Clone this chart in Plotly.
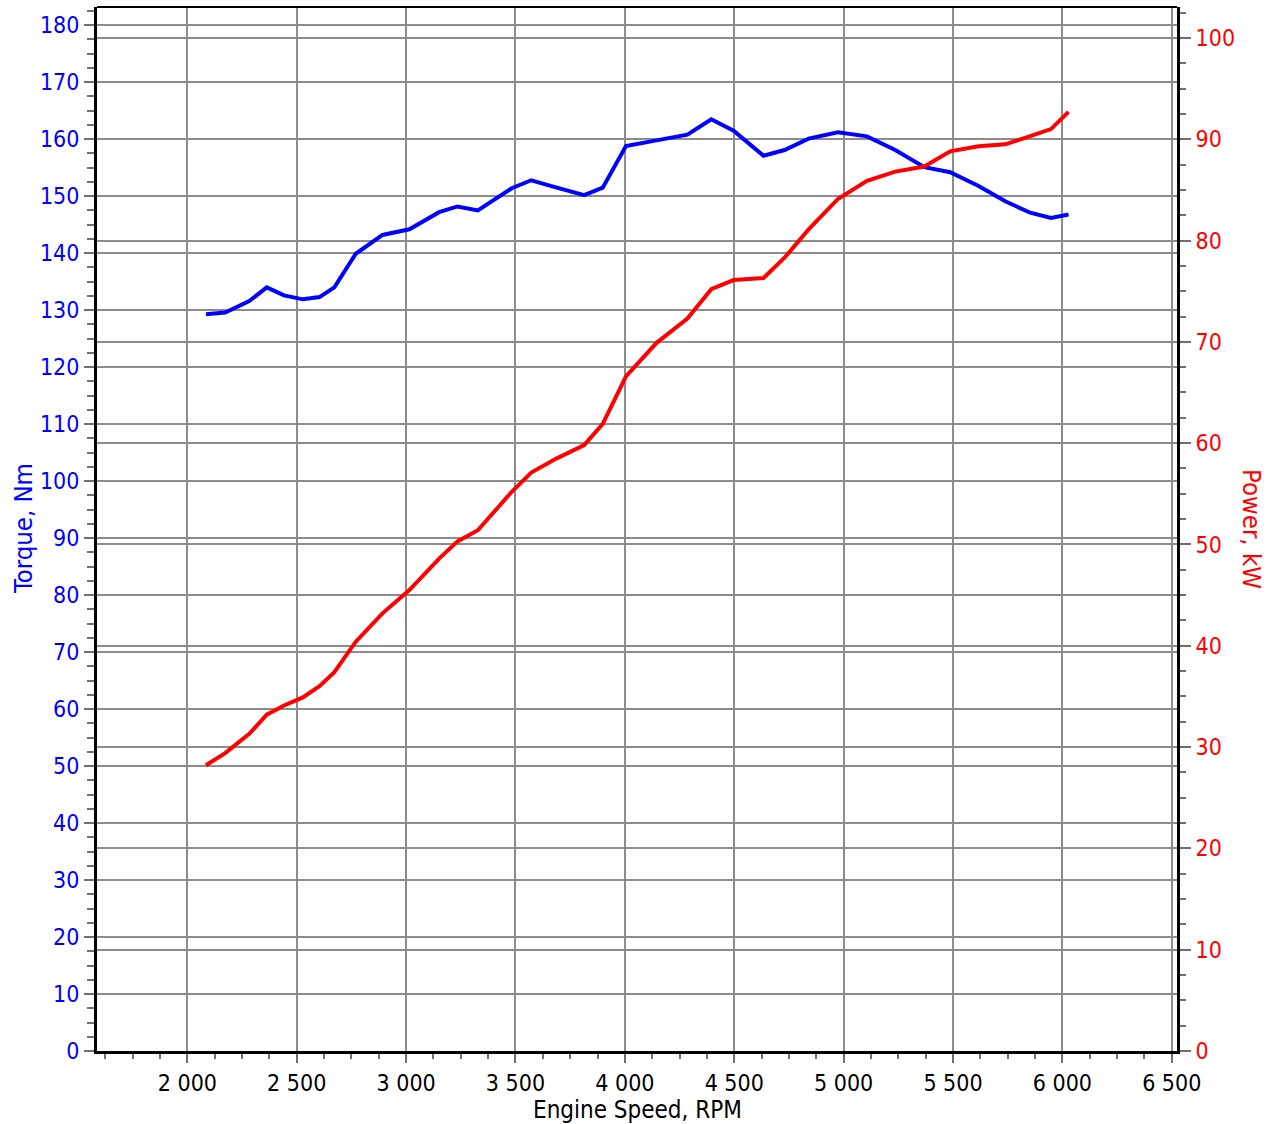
import plotly.graph_objects as go

# Engine speed (RPM) sample points
rpm = [2085, 2173, 2283, 2363, 2442, 2528, 2604, 2672, 2770, 2892, 3015, 3151, 3235,
       3328, 3483, 3572, 3689, 3814, 3899, 4005, 4145, 4286, 4395, 4497, 4634, 4730,
       4840, 4974, 5107, 5236, 5369, 5487, 5617, 5739, 5853, 5948, 6028]

# Torque, Nm
torque = [129.3, 129.6, 131.6, 134.0, 132.6, 131.9, 132.3, 134.0, 139.9, 143.2, 144.2,
          147.2, 148.2, 147.5, 151.4, 152.8, 151.5, 150.2, 151.5, 158.8, 159.8, 160.8,
          163.5, 161.5, 157.1, 158.1, 160.1, 161.2, 160.5, 158.1, 155.1, 154.2, 151.8,
          149.1, 147.1, 146.2, 146.8]

# Power, kW
power = [28.2, 29.4, 31.3, 33.2, 34.1, 34.9, 36.0, 37.4, 40.4, 43.2, 45.5, 48.6, 50.3,
         51.4, 55.2, 57.1, 58.5, 59.8, 61.9, 66.6, 69.9, 72.3, 75.2, 76.1, 76.3, 78.3,
         81.1, 84.1, 85.9, 86.8, 87.3, 88.8, 89.3, 89.5, 90.3, 91.0, 92.7]

FONT = "DejaVu Sans Condensed, DejaVu Sans, Liberation Sans, sans-serif"
GRID = "#8c8c8c"
TICK = "#707070"

fig = go.Figure()
fig.add_trace(go.Scatter(x=rpm, y=torque, mode="lines", name="Torque",
                         line=dict(color="#0000ff", width=4), yaxis="y"))
fig.add_trace(go.Scatter(x=rpm, y=power, mode="lines", name="Power",
                         line=dict(color="#ff0000", width=4), yaxis="y2"))

fig.update_layout(
    width=1276, height=1124,
    margin=dict(l=97, r=99, t=7, b=73),
    paper_bgcolor="white", plot_bgcolor="white",
    showlegend=False,
    separators=". ",
    font=dict(family=FONT, size=23, color="black"),
    xaxis=dict(
        range=[1587, 6524], tick0=0, dtick=500, separatethousands=True,
        showgrid=True, gridcolor=GRID, gridwidth=2, zeroline=False,
        showline=True, linecolor="black", linewidth=3,
        ticks="outside", ticklen=9, tickwidth=2, tickcolor=TICK,
        tickfont=dict(family=FONT, size=23, color="black"),
        minor=dict(dtick=125, tick0=0, ticks="outside", ticklen=5, tickwidth=2,
                   tickcolor=TICK, showgrid=False),
    ),
    yaxis=dict(
        range=[0, 183.2], tick0=0, dtick=10,
        showgrid=True, gridcolor=GRID, gridwidth=2, zeroline=False,
        showline=True, linecolor="black", linewidth=3,
        ticks="outside", ticklen=10, tickwidth=2, tickcolor=TICK,
        tickfont=dict(family=FONT, size=23, color="#0000ff"),
        minor=dict(dtick=2.5, tick0=0, ticks="outside", ticklen=7, tickwidth=2,
                   tickcolor=TICK, showgrid=False),
    ),
    yaxis2=dict(
        range=[0, 183.2 * 90 / 160], tick0=0, dtick=10,
        overlaying="y", side="right",
        showgrid=True, gridcolor=GRID, gridwidth=2, zeroline=False,
        showline=True, linecolor="black", linewidth=3,
        ticks="outside", ticklen=11, tickwidth=2, tickcolor=TICK,
        tickfont=dict(family=FONT, size=23, color="#ff0000"),
        minor=dict(dtick=2.5, tick0=0, ticks="outside", ticklen=6, tickwidth=2,
                   tickcolor=TICK, showgrid=False),
    ),
    shapes=[dict(type="line", xref="paper", yref="paper", x0=0, x1=1, y0=1, y1=1,
                 line=dict(color="black", width=2))],
    annotations=[
        dict(text="Engine Speed, RPM", xref="paper", yref="paper", x=0.5, y=-0.0565,
             xanchor="center", yanchor="middle", showarrow=False,
             font=dict(family=FONT, size=24, color="black")),
        dict(text="Torque, Nm", xref="paper", yref="paper", x=-0.0685, y=0.5,
             xanchor="center", yanchor="middle", textangle=-90, showarrow=False,
             font=dict(family=FONT, size=25.5, color="#0000ff")),
        dict(text="Power, kW", xref="paper", yref="paper", x=1.0694, y=0.5,
             xanchor="center", yanchor="middle", textangle=90, showarrow=False,
             font=dict(family=FONT, size=25.5, color="#ff0000")),
    ],
)

fig.write_html("out.html",
               config={"displayModeBar": False},
               post_script="document.body.style.margin='0px';document.body.style.overflow='hidden';")
